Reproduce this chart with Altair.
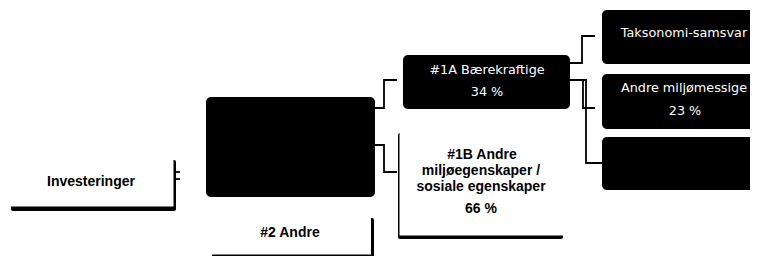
import altair as alt
import pandas as pd

# ---- content ----
share_1a = 34
share_1b = 66
share_env = 23

dark_lines = ["Investeringer", "#2 Andre", "#1B Andre", "miljøegenskaper /",
              "sosiale egenskaper", f"{share_1b} %"]
dark_x = [91, 290, 482, 481, 481, 481]
dark_y = [182, 233, 155, 171, 187, 209]

light_lines = ["#1A Bærekraftige", f"{share_1a} %", "Taksonomi-samsvar",
               "Andre miljømessige", f"{share_env} %"]
light_x = [487, 487, 684, 684, 685]
light_y = [70, 92, 33, 88, 111]

# black boxes: main #1, #1A, taxonomy, other env, social
box_x = [206, 403, 602, 602, 602]
box_x2 = [375, 570, 775, 775, 775]
box_y = [97, 55, 10, 74, 137]
box_y2 = [197, 109, 64, 129, 190]

# white boxes with shadow: Investeringer, #2 Andre, #1B
shadow_x = [11, 212, 398]
shadow_x2 = [176, 374, 563]
shadow_y = [160, 218, 133]
shadow_y2 = [211, 290, 239]
face_x = [0, 190, 399.5]
face_x2 = [173.5, 371, 580]
face_y = [140, 195, 115]
face_y2 = [206.5, 254.5, 235.5]

# connectors (id, x, y)
conn_id = [1, 1, 1, 1, 2, 2, 2, 2, 3, 3, 3, 3, 4, 4, 4, 4, 5, 5, 5, 5, 6, 6, 7, 7]
conn_x = [375, 384, 384, 397, 375, 384, 384, 397, 569, 582, 582, 595,
          569, 583, 583, 595, 569, 586, 586, 602, 176, 180, 176, 180]
conn_y = [108, 108, 80, 80, 145, 145, 172, 172, 63, 63, 36, 36,
          80, 80, 108, 108, 80, 80, 163, 163, 172, 172, 179, 179]

W, H = 742, 248
xs = alt.Scale(domain=[8, 750], zero=False, nice=False)
ys = alt.Scale(domain=[8, 256], reverse=True, zero=False, nice=False)
X = lambda f: alt.X(f, type="quantitative", scale=xs, axis=None)
Y = lambda f: alt.Y(f, type="quantitative", scale=ys, axis=None)
X2 = lambda f: alt.X2(f)
Y2 = lambda f: alt.Y2(f)

boxes = pd.DataFrame({"x": box_x, "x2": box_x2, "y": box_y, "y2": box_y2})
shadows = pd.DataFrame({"x": shadow_x, "x2": shadow_x2, "y": shadow_y, "y2": shadow_y2})
faces = pd.DataFrame({"x": face_x, "x2": face_x2, "y": face_y, "y2": face_y2})
conns = pd.DataFrame({"id": conn_id, "seq": list(range(len(conn_id))), "x": conn_x, "y": conn_y})
dark = pd.DataFrame({"t": dark_lines, "x": dark_x, "y": dark_y})
light = pd.DataFrame({"t": light_lines, "x": light_x, "y": light_y})

shadow_layer = alt.Chart(shadows).mark_rect(color="black", cornerRadius=2, clip=True).encode(
    x=X("x"), x2=X2("x2"), y=Y("y"), y2=Y2("y2"))
face_layer = alt.Chart(faces).mark_rect(color="white", clip=True).encode(
    x=X("x"), x2=X2("x2"), y=Y("y"), y2=Y2("y2"))
box_layer = alt.Chart(boxes).mark_rect(color="black", cornerRadius=5, clip=True).encode(
    x=X("x"), x2=X2("x2"), y=Y("y"), y2=Y2("y2"))
conn_layer = alt.Chart(conns).mark_line(color="black", strokeWidth=1.8, clip=True).encode(
    x=X("x"), y=Y("y"), detail="id:N", order="seq:Q")
dark_layer = alt.Chart(dark).mark_text(
    color="black", font="Liberation Sans", fontWeight="bold", fontSize=14,
    align="center", baseline="middle").encode(x=X("x"), y=Y("y"), text="t:N")
light_layer = alt.Chart(light).mark_text(
    color="white", font="DejaVu Sans", fontSize=12.8,
    align="center", baseline="middle").encode(x=X("x"), y=Y("y"), text="t:N")

chart = alt.layer(shadow_layer, face_layer, box_layer, conn_layer, dark_layer, light_layer).properties(
    width=W, height=H, autosize=alt.AutoSizeParams(type="none"), padding=0
).configure_view(stroke=None)

chart.save("out.html", embed_options={"renderer": "svg", "actions": False})
